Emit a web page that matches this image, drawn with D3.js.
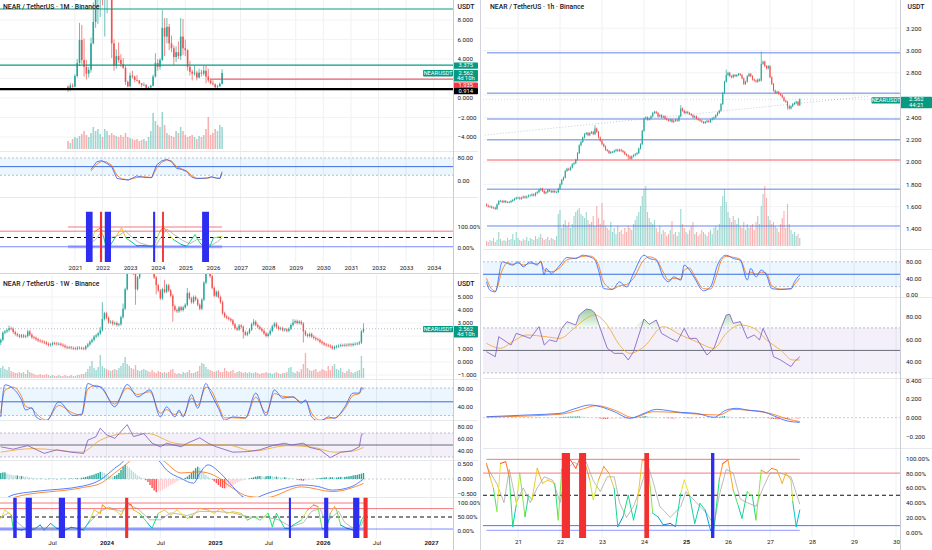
<!DOCTYPE html>
<html lang="en">
<head>
<meta charset="UTF-8">
<title>NEAR / TetherUS</title>
<script src="https://d3js.org/d3.v7.min.js"></script>
<style>
  body { margin: 0; background: #ffffff; }
  svg { display: block; font-family: Roboto, "Liberation Sans", sans-serif; }
  .axis text { font-size: 6.2px; fill: #131722; font-family: Roboto, "Liberation Sans", sans-serif; }
  .title { font-size: 6.8px; fill: #131722; font-weight: 500; }
  .tag { font-size: 5.8px; fill: #ffffff; }
</style>
</head>
<body>
<svg id="chart" width="932" height="550"></svg>
<script>
// ---------------- 1M (Oct 2020 .. May 2026), month index 0 = Oct 2020 ----------------
const m1Open0 = 1.15;
const m1Close = [0.93,1.28,1.17,2.25,3.60,5.95,3.90,3.20,2.50,2.90,
  5.60,7.80,10.30,10.80,14.40,10.20,10.40,16.30,11.20,5.60,
  3.30,4.30,3.90,3.50,3.10,1.65,1.20,2.30,2.20,1.85,
  1.80,1.50,1.35,1.35,1.05,1.10,1.25,2.20,3.60,3.20,
  3.90,7.20,6.30,7.30,5.60,5.10,4.20,4.70,4.30,6.30,
  5.10,4.90,3.20,2.70,2.50,2.60,2.10,2.60,2.50,2.80,
  2.20,1.80,1.50,1.40,1.10,1.20,1.45,2.562];
const m1High = [1.30,1.55,1.50,2.45,4.00,7.70,7.50,6.10,3.90,3.20,
  6.20,9.80,11.30,13.20,14.80,20.60,13.00,19.50,20.50,12.50,
  6.00,5.00,5.70,4.50,4.10,3.30,1.80,2.60,2.80,2.30,
  2.35,1.85,1.55,1.60,1.40,1.20,1.35,2.40,4.60,4.00,
  4.10,9.00,8.20,8.20,7.60,6.40,5.40,5.30,5.80,8.20,
  8.10,6.00,5.00,3.80,2.90,3.30,2.80,3.00,2.90,3.30,
  3.30,3.00,1.90,1.80,1.50,1.35,1.60,2.95];
const m1Low = [0.62,0.70,1.05,1.10,2.10,3.30,3.50,2.20,1.90,2.10,
  2.60,5.50,7.20,7.60,8.30,9.50,6.30,8.70,10.50,4.10,
  2.80,3.00,3.60,3.20,3.00,1.35,1.10,1.10,2.00,1.60,
  1.70,1.40,1.10,1.25,0.95,0.98,1.00,1.20,2.10,2.80,
  2.90,3.80,4.30,5.60,4.90,4.70,3.40,3.70,4.00,3.90,
  4.40,4.30,2.80,2.30,1.80,2.30,1.80,2.00,2.20,2.30,
  1.50,1.60,1.40,1.30,0.95,1.00,1.15,1.40];
const m1Vol = [8,6,10,12,11,13,15,18,14,12,
  16,22,18,20,15,12,20,18,14,16,
  14,13,12,14,12,16,12,11,10,9,
  10,8,9,10,8,12,18,36,28,24,
  22,37,24,16,14,13,12,18,16,22,
  18,14,12,13,14,12,10,13,12,14,
  20,32,14,16,20,18,24,22];
const m1StochIdx = [10,12.5,14.6,16.8,19,21.2,23.3,26.2,29.9,32.8,36.4,38.5,40.7,42.9,45,47.2,49.4,51.6,53.8,55.9,60.3,62.5,64.6,66.1,67];
const m1StochK = [40.6,67,70.7,61.5,49.8,9.3,5.8,3.5,17.4,12.8,11.6,55.7,69.6,75.4,67,44,40.6,32.5,12.8,8.1,10.4,15,9.3,9.3,32.5];
const m1StochD = [35,58,69,66,55,20,8,4,12,15,12,45,65,73,70,50,42,35,18,10,9,13,11,9,25];
const m1SigIdx = [8.4,10.3,11.7,13.9,15.4,16.5,18.3,20.4,23.3,25.2,27.2,29.9,32.8,36.4,37.8,40,41.4,42.9,45.8,49.4,51.6,55.2,57.4,58.6,61.7,63.2,65.3,67];
const m1SigVal = [5,40,79,95,56,11,11,48,95,48,32,11,11,8,24,79,100,79,40,16,8,63,24,11,8,48,52,56];
const m1SlowIdx = [8,12,15,19,22,25,28,31,35,38,41,43,46,50,53,56,59,62,65,67];
const m1SlowVal = [10,40,85,50,60,80,50,25,12,10,60,90,65,35,20,40,40,12,30,48];
const m1BlueSpans = [[7.8,10.7],[16,18.7],[37,37.9],[58.3,61.3]];
const m1RedSpans = [[13.9,14.8],[40.9,41.7]];
const m1TealLevels = [9.13, 3.375];
const m1RedLevel = [61.7, 1.935];
const m1BlackLevel = 0.914;
const m1Years = [2021,2022,2023,2024,2025,2026,2027,2028,2029,2030,2031,2032,2033,2034];
const m1PriceTicks = [-4,-2,0,2,4,6,8];
const m1StochTicks = [0,80];
const m1SigTicks = [0,100];

// ---------------- 1W (week 0 = 2023-01-09) ----------------
const w1Open0 = 1.50;
const w1Close = [1.70,2.25,2.35,2.45,2.60,2.55,2.30,2.15,2.05,1.95,
  2.05,1.95,2.00,2.35,2.10,1.90,1.85,1.75,1.65,1.60,
  1.55,1.50,1.40,1.30,1.35,1.45,1.42,1.38,1.40,1.32,
  1.25,1.15,1.10,1.12,1.08,1.05,1.02,1.10,1.08,1.05,
  1.02,1.20,1.35,1.55,1.70,1.95,2.05,2.20,2.45,3.30,
  3.75,3.40,3.05,3.10,2.95,3.00,2.85,2.90,3.45,4.10,
  5.60,7.20,7.60,7.30,6.80,5.60,6.50,7.10,7.30,7.60,
  8.00,7.80,7.40,7.20,6.50,5.90,5.50,4.90,5.60,5.40,
  5.90,5.50,5.10,4.30,4.00,3.90,4.20,4.00,4.20,4.40,
  5.30,4.90,4.60,5.00,4.80,4.40,4.10,4.80,6.10,7.10,
  7.60,6.60,5.70,5.10,5.40,5.00,4.60,3.75,3.50,3.40,
  3.30,3.20,2.90,2.60,2.50,2.80,2.70,2.30,2.10,2.25,
  2.50,2.90,3.10,2.85,2.70,2.55,2.40,2.20,2.00,2.15,
  2.40,2.75,2.95,2.70,2.55,2.60,2.45,2.50,2.40,2.55,
  2.85,3.05,3.15,3.00,3.10,2.95,2.35,2.10,2.00,2.15,
  1.95,1.85,1.75,1.70,1.55,1.45,1.35,1.30,1.25,1.18,
  1.05,1.15,1.20,1.25,1.30,1.28,1.32,1.30,1.35,1.30,
  1.38,1.40,1.42,1.50,2.35,2.562];
const w1HighMarks = [[4,2.8],[13,2.45],[48,2.7],[49,4.6],[59,4.5],[65,7.0],[79,6.3],[90,5.7],[122,3.3],[141,3.3],[175,2.97]];
const w1LowMarks = [[0,1.3],[54,2.8],[65,4.4],[75,5.2],[83,3.1],[117,1.8],[128,1.9],[146,1.5],[160,0.96]];
const w1Vol = [10,12,9,8,11,7,6,5,5,6,
  5,6,4,8,6,5,4,3,3,4,
  3,3,4,3,2,3,2,2,3,2,
  2,3,2,2,3,2,2,3,3,4,
  4,6,9,12,17,10,8,11,23,12,
  10,9,8,7,8,9,8,10,12,15,
  21,14,12,10,9,13,8,7,8,9,
  8,7,6,8,6,5,7,6,5,6,
  5,6,8,9,5,4,5,4,6,5,
  6,8,5,5,6,7,12,15,14,11,
  9,8,7,6,7,8,6,6,10,7,
  6,7,8,5,6,7,6,5,6,5,
  6,5,5,6,5,4,5,5,6,5,
  5,4,5,6,5,4,5,5,6,10,
  11,6,5,7,6,9,14,25,10,8,
  7,8,9,6,7,9,8,7,12,8,
  12,14,9,8,10,6,5,7,9,6,
  5,6,7,8,22,10];
const w1StochIdx = [0,2,6,10,12,15,17,22,28,35,39,42,46,48,55,61,66,72,77,80,84,86,88,92,95,99,101,105,108,112,118,123,128,132,136,141,145,147,150,154,158,161,166,170,173,174,175];
const w1StochK = [17,87,79,54,32,37,17,8,50,20,23,90,83,83,39,88,61,76,17,39,17,32,17,66,36,90,72,36,10,17,15,69,20,76,58,61,47,54,17,7,17,14,39,69,69,81,78];
const w1StochD = [25,75,82,62,40,35,25,10,42,25,21,78,86,82,45,80,66,72,25,33,22,28,20,58,42,82,78,42,15,15,14,60,26,68,62,60,50,52,25,10,14,15,35,64,68,76,80];
const w1RsiIdx = [0,6,13,21,27,34,40,42,46,48,51,55,61,64,69,73,77,80,87,90,96,100,104,112,119,125,131,137,140,146,149,154,159,164,169,173,174,175];
const w1Rsi = [47,43,49,36,42,38,36,58,64,78,67,61,84,64,69,53,47,53,47,53,62,53,47,38,39,42,49,53,50,53,46,42,29,38,40,47,67,69];
const w1RsiMaIdx = [0,16,39,48,61,71,84,96,109,122,138,151,161,170,175];
const w1RsiMa = [38,44,38,58,69,69,53,50,50,40,49,46,38,40,46];
const w1MacdIdx = [0,6,16,40,48,55,59,62,68,72,76,80,87,93,96,100,106,112,117,122,125,137,145,153,160,169,175];
const w1Macd = [-0.75,-0.53,-0.42,-0.23,-0.03,0.36,0.58,0.9,1.0,0.8,0.63,0.3,0.02,-0.14,0.19,0.47,0.19,-0.26,-0.6,-0.68,-0.58,-0.31,-0.2,-0.25,-0.37,-0.26,0.0];
const w1SignalIdx = [0,6,40,48,55,61,66,72,78,87,96,103,112,119,128,145,160,175];
const w1Signal = [-0.8,-0.62,-0.28,-0.15,0.2,0.52,0.8,0.85,0.63,0.2,0.24,0.12,-0.31,-0.57,-0.62,-0.26,-0.42,-0.15];
const w1Hist = [20,22,22,18,16,14,13,12,12,10,
  10,9,8,6,5,4,3,2,1,1,
  1,0,-1,1,1,0,1,-1,0,1,
  1,1,0,1,2,1,2,3,2,4,
  5,7,9,11,13,15,18,20,24,23,
  20,16,12,9,8,10,14,20,30,40,
  47,44,38,30,24,18,12,8,4,2,
  -4,-10,-20,-30,-38,-44,-42,-40,-36,-32,
  -28,-24,-20,-16,-12,-8,-5,-3,0,4,
  8,14,20,28,36,41,38,30,22,14,
  8,3,-2,-8,-14,-20,-26,-30,-31,-30,
  -28,-24,-20,-16,-12,-9,-6,-4,-2,0,
  2,4,6,8,9,10,9,8,9,10,
  10,9,8,8,7,6,5,6,5,4,
  3,2,0,-2,-4,-5,-6,-5,-4,-3,
  -2,-1,1,2,3,4,5,6,5,6,
  6,5,5,6,7,6,7,8,9,10,
  12,13,14,16,18,20];
const w1SigIdx = [0,2,5,6,10,13,16,19,21,24,27,31,34,37,40,43,45,48,49,51,55,58,61,63,64,67,71,73,76,79,82,85,90,93,96,100,103,106,109,112,116,119,122,125,129,131,133,137,139,141,145,148,151,153,155,157,159,161,162,164,167,170,173,174,175];
const w1SigVal = [45,75,57,9.5,3.6,9.5,6,21,3.6,27,9.5,3.6,13,9.5,3.6,39,75,63,93,81,75,57,99,93,75,63,27,9.5,63,75,57,75,45,57,81,75,63,81,63,69,63,39,51,39,63,15,63,9.5,9.5,21,39,75,93,87,9.5,3.6,63,87,75,21,9.5,3.6,15,39,51];
const w1SlowIdx = [0,4,8,12,20,30,40,44,48,52,58,62,66,72,77,82,90,96,104,112,120,128,134,140,146,150,154,157,160,163,166,170,174,175];
const w1SlowVal = [50,65,30,8,10,10,8,40,70,85,70,92,80,40,40,65,55,70,70,65,50,50,40,15,30,70,80,30,50,70,30,10,20,40];
const w1BlueSpans = [[6,7.7],[12,15],[28,31],[37,38.6],[139,140],[156,158],[170,173]];
const w1RedSpans = [[60,61.5],[175,177]];
const w1TickDates = ["2023-07-01","2024-01-01","2024-07-01","2025-01-01","2025-07-01","2026-01-01","2026-07-01","2027-01-01"];
const w1TickLabels = ["Jul","2024","Jul","2025","Jul","2026","Jul","2027"];
const w1PriceTicks = [-1,0,1,2,3,4,5];
const w1StochTicks = [40,80];
const w1RsiTicks = [40,60,80];
const w1MacdTicks = [-0.5,0,0.5];
const w1SigTicks = [0,50,100];

// ---------------- 1h (hour 0 = day 20, 00:00; first candle hour 6) ----------------
const h1Start = 6;
const h1Open0 = 1.62;
const h1Close = [1.61,1.60,1.60,1.59,1.59,1.58,1.62,1.65,1.65,1.64,
  1.65,1.64,1.64,1.64,1.65,1.66,1.67,1.68,1.68,1.67,
  1.68,1.69,1.68,1.69,1.70,1.70,1.71,1.70,1.72,1.73,
  1.75,1.76,1.74,1.72,1.73,1.75,1.74,1.73,1.74,1.73,
  1.73,1.76,1.80,1.84,1.86,1.92,1.94,1.93,1.95,1.98,
  1.99,2.02,2.08,2.15,2.18,2.22,2.25,2.26,2.24,2.26,
  2.27,2.25,2.30,2.27,2.22,2.19,2.16,2.14,2.11,2.10,
  2.08,2.09,2.09,2.10,2.11,2.10,2.11,2.10,2.09,2.07,
  2.06,2.05,2.03,2.05,2.06,2.07,2.08,2.12,2.16,2.28,
  2.39,2.40,2.38,2.39,2.41,2.44,2.45,2.44,2.41,2.42,
  2.40,2.41,2.39,2.38,2.37,2.38,2.36,2.37,2.38,2.37,
  2.41,2.48,2.46,2.44,2.45,2.44,2.43,2.42,2.40,2.41,
  2.39,2.38,2.37,2.36,2.35,2.36,2.37,2.36,2.38,2.39,
  2.40,2.42,2.44,2.46,2.52,2.62,2.72,2.78,2.80,2.77,
  2.76,2.78,2.77,2.78,2.79,2.78,2.75,2.70,2.72,2.77,
  2.79,2.77,2.74,2.73,2.72,2.74,2.73,2.88,2.90,2.86,
  2.84,2.86,2.76,2.70,2.64,2.62,2.63,2.61,2.60,2.58,
  2.55,2.54,2.50,2.48,2.50,2.52,2.53,2.54,2.51,2.562];
const h1HighMarks = [[68,2.33],[117,2.51],[143,2.83],[163,2.99]];
const h1LowMarks = [[11,1.57],[87,2.02],[178,2.47]];
const h1Vol = [5,4,6,5,8,4,6,14,7,5,
  6,5,8,6,7,12,6,14,8,6,
  5,7,6,9,5,8,7,6,10,7,
  9,12,8,6,7,9,6,8,7,6,
  10,32,36,18,22,26,20,24,18,22,
  30,34,36,38,32,30,28,34,26,22,
  24,30,20,40,28,22,43,26,20,18,
  16,24,14,18,12,20,14,16,12,18,
  14,20,18,16,22,26,30,34,40,50,
  57,60,34,28,24,22,26,18,14,20,
  12,16,14,10,12,16,25,12,14,10,
  14,37,22,18,14,12,16,20,24,12,
  14,10,12,16,14,12,10,14,16,12,
  18,20,16,22,40,50,57,44,34,28,
  24,30,26,22,28,20,18,24,16,22,
  18,20,22,16,24,30,22,40,52,60,
  48,30,26,22,24,20,18,14,22,28,
  35,18,42,22,16,12,14,10,12,8];
const h1Hist = [1,1,2,1,-1,-2,1,3,2,1,
  1,0,1,1,2,2,3,2,1,0,
  1,2,2,1,2,3,2,1,2,3,
  4,3,1,0,-1,1,2,1,0,-1,
  0,3,6,8,9,10,10,11,12,12,
  12,13,14,15,14,12,10,9,7,5,
  4,2,0,-2,-5,-8,-11,-13,-14,-14,
  -13,-12,-11,-10,-9,-8,-7,-7,-6,-6,
  -6,-5,-4,-3,-2,0,2,4,8,12,
  16,17,16,14,12,10,8,6,4,2,
  0,-2,-3,-5,-6,-7,-8,-9,-8,-7,
  -5,-2,-1,-3,-4,-5,-6,-7,-6,-5,
  -5,-4,-4,-3,-3,-2,-1,0,1,2,
  3,5,7,9,12,15,17,16,14,11,
  8,5,2,0,-2,-4,-5,-6,-5,-4,
  -3,-2,-3,-4,-5,-4,-2,2,3,1,
  -2,-5,-9,-12,-14,-15,-16,-16,-15,-14,
  -13,-14,-15,-14,-13,-12,-11,-10,-10,-9];
const h1StochIdx = [6,8,11,15,18,21,24,27,31,35,37,39,40,43,48,52,57,61,65,68,70,73,78,82,86,90,96,99,103,107,110,113,117,119,122,125,130,134,138,140,143,147,151,155,157,160,163,166,169,174,180,182,185];
const h1StochK = [31.5,11,7,80,76,72,80,68,80,72,82,48,64,52,72,90.5,88,96,92,84,60,15,13,31.5,19,52,96,88,84,43.6,31.5,43.6,35.6,72,60,39.6,9.7,19,72,88,96,88,84,35.6,64,43.6,60,47.7,15,13,15,31.5,47.7];
const h1StochD = [40,20,9,60,78,74,77,72,76,75,79,60,58,56,66,85,89,93,94,88,72,30,14,22,25,40,85,92,86,55,36,40,38,60,65,45,15,14,55,82,93,91,86,50,55,50,55,52,22,14,14,25,40];
const h1RsiIdx = [6,11,13,20,23,31,36,39,42,46,49,52,57,59,63,66,68,71,75,79,84,87,90,96,99,103,106,111,115,119,122,126,132,136,139,143,145,147,151,155,159,162,164,168,170,174,177,180,182,185];
const h1Rsi = [48.9,44.4,62.2,54.8,65.2,60.7,71.1,54.8,59.3,57.8,69.6,75.6,72.6,81.5,86.8,85.9,83,69.6,51.9,47.4,47.4,41.5,48.9,77.9,73.2,77,65.2,60.7,57.8,69.6,60.7,60.7,45.9,51.9,65.2,81.5,82.1,74.1,75.6,60.7,63.7,59.3,69.6,56.3,44.4,41.5,38.5,35.6,40,44.4];
const h1RsiMaIdx = [6,14,21,29,40,48,56,63,68,75,82,88,96,107,117,126,136,143,151,159,166,174,181,185];
const h1RsiMa = [56.3,51.9,58,63.7,62.2,60.7,69.6,78.5,81.5,72.6,54.8,47.4,53.3,71.1,63.7,57.8,51.9,65.2,72.6,69.6,59.3,50.4,41.5,41.5];
const h1MacdIdx = [6,31,48,56,65,71,79,88,96,103,117,126,136,143,149,155,164,170,178,185];
const h1Macd = [0.01,0.03,0.046,0.093,0.136,0.118,0.064,-0.007,0.046,0.089,0.057,0.046,0.004,0.082,0.1,0.082,0.064,0.021,-0.036,-0.05];
const h1SignalIdx = [6,48,59,69,79,90,101,113,128,139,147,159,168,178,185];
const h1Signal = [0.007,0.036,0.082,0.129,0.082,0,0.064,0.057,0.036,0.029,0.089,0.071,0.046,-0.014,-0.043];
const h1SigIdx = [6,8,10,12,14,17,19,21,23,25,28,30,32,35,38,41,45,47,49,51,54,57,59,62,65,67,70,73,76,79,81,84,87,90,92,95,98,99,101,104,107,111,114,117,119,122,125,128,131,134,136,139,141,144,147,150,152,155,158,160,163,166,169,172,175,177,180,181,183,185];
const h1SigVal = [93,75,59,28,93,95.5,75,7.7,37,80,21,50,44,86.5,66,70.7,66,16.7,84,97.7,97.7,86.5,97.7,95.5,70.7,44,70.7,88.7,80,59,7.7,21,50,16.7,37,97.7,97.7,75,25.7,21,9.9,12,7.7,52.7,70.7,50,12,39,30,3,5.4,70.7,93,97.7,57,34.7,19,55,48,16.7,84,80,86.5,84,66,80,70.7,41.4,7.7,30];
const h1SlowIdx = [6,12,16,19,23,27,31,35,39,44,48,52,56,59,63,67,71,75,79,82,86,90,94,98,101,105,111,117,120,126,132,136,139,143,147,151,155,160,164,168,174,180,185];
const h1SlowVal = [90,65,40,85,40,60,40,60,75,70,40,85,95,90,95,70,55,75,75,40,20,35,60,92,70,35,20,35,55,40,25,10,50,85,80,45,40,35,60,80,80,75,38];
const h1RedSpans = [[49,53.7],[58.9,62.9],[96.2,98.9]];
const h1BlueSpans = [[134.3,136.2]];
const h1BlueLevels = [2.98, 2.616, 2.386, 2.20, 1.755, 1.426];
const h1RedLevels = [2.018];
const h1Trend = [[5, 2.242], [225, 2.59]];
const h1Days = [21,22,23,24,25,26,27,28,29,30];
const h1PriceTicks = [1.4,1.6,1.8,2.0,2.2,2.4,2.6,2.8,3.0,3.2];
const h1StochTicks = [0,40,80];
const h1RsiTicks = [40,60,80];
const h1MacdTicks = [-0.2,0,0.2,0.4];
const h1SigTicks = [0,20,40,60,80,100];

const lastPrice = 2.562;

// ---------------- drawing helpers ----------------
const svg = d3.select("#chart");
const UP = "#26a69a", DN = "#ef5350";
const UPV = "rgba(38,166,154,0.45)", DNV = "rgba(239,83,80,0.45)";
const heat = d3.scaleLinear().domain([0, 20, 40, 60, 80, 100])
  .range(["#1f1fff", "#00c2e0", "#1ee36b", "#e6e62e", "#ff9a1f", "#ff2a2a"]);
let clipId = 0;

function clipped(x0, y0, x1, y1) {
  const id = "clip" + (clipId++);
  svg.append("clipPath").attr("id", id).append("rect")
    .attr("x", x0).attr("y", y0).attr("width", x1 - x0).attr("height", y1 - y0);
  return svg.append("g").attr("clip-path", `url(#${id})`);
}

function hline(g, x0, x1, yy, color, w, dash) {
  g.append("line").attr("x1", x0).attr("x2", x1).attr("y1", yy).attr("y2", yy)
    .attr("stroke", color).attr("stroke-width", w).attr("stroke-dasharray", dash || null);
}

// price labels; a label that would sit under a price tag is left out (the tag hides it)
function yAxis(y, ticks, fmt, lx, covered) {
  const shown = ticks.filter(t => !(covered || []).some(([a, b]) => y(t) > a - 2.6 && y(t) < b + 2.6));
  const g = svg.append("g").attr("class", "axis").attr("transform", `translate(${lx},0)`)
    .call(d3.axisRight(y).tickValues(shown).tickFormat(fmt).tickSize(0).tickPadding(0));
  g.select(".domain").remove();
}

function xAxis(x, ticks, labels, yy, bold) {
  const g = svg.append("g").attr("class", "axis").attr("transform", `translate(0,${yy})`)
    .call(d3.axisBottom(x).tickValues(ticks).tickFormat((d, i) => labels[i]).tickSize(0).tickPadding(0));
  g.select(".domain").remove();
  g.selectAll("text").attr("font-weight", (d, i) => bold(labels[i]) ? "bold" : null);
}

function vgrid(g, x, ticks, y0, y1) {
  g.selectAll(null).data(ticks).join("line")
    .attr("x1", d => x(d)).attr("x2", d => x(d)).attr("y1", y0).attr("y2", y1)
    .attr("stroke", "#eef0f4").attr("stroke-width", 1);
}

function hgrid(g, y, ticks, x0, x1) {
  g.selectAll(null).data(ticks).join("line")
    .attr("x1", x0).attr("x2", x1).attr("y1", d => y(d)).attr("y2", d => y(d))
    .attr("stroke", "#f2f3f6").attr("stroke-width", 1);
}

function candles(g, x, y, tAt, open0, closes, highs, lows, bw, pad) {
  const bars = closes.map((c, i) => ({
    t: tAt(i), o: i ? closes[i - 1] : open0, c, h: highs.get(i), l: lows.get(i)
  }));
  g.selectAll(null).data(bars).join("line")
    .attr("x1", d => x(d.t)).attr("x2", d => x(d.t))
    .attr("y1", d => d.h !== undefined ? y(d.h) : Math.min(y(d.o), y(d.c)) - pad)
    .attr("y2", d => d.l !== undefined ? y(d.l) : Math.max(y(d.o), y(d.c)) + pad)
    .attr("stroke", d => d.c >= d.o ? UP : DN).attr("stroke-width", 0.7);
  g.selectAll(null).data(bars).join("rect")
    .attr("x", d => x(d.t) - bw / 2).attr("width", bw)
    .attr("y", d => Math.min(y(d.o), y(d.c)))
    .attr("height", d => Math.max(0.7, Math.abs(y(d.o) - y(d.c))))
    .attr("fill", d => d.c >= d.o ? UP : DN);
}

function volume(g, x, y, tAt, open0, closes, vols, bw) {
  g.selectAll(null).data(vols).join("rect")
    .attr("x", (v, i) => x(tAt(i)) - bw / 2).attr("width", bw)
    .attr("y", v => y(v)).attr("height", v => y(0) - y(v))
    .attr("fill", (v, i) => closes[i] >= (i ? closes[i - 1] : open0) ? UPV : DNV);
}

function path(g, x, y, tAt, xs, vs, color, w, curve) {
  return g.append("path").datum(xs.map((t, i) => [t, vs[i]]))
    .attr("fill", "none").attr("stroke", color).attr("stroke-width", w)
    .attr("stroke-linejoin", "round")
    .attr("d", d3.line().x(d => x(tAt(d[0]))).y(d => y(d[1])).curve(curve || d3.curveLinear));
}

function heatPath(g, x, y, tAt, xs, vs, w) {
  const segs = d3.pairs(xs.map((t, i) => [t, vs[i]]));
  g.selectAll(null).data(segs).join("line")
    .attr("x1", d => x(tAt(d[0][0]))).attr("y1", d => y(d[0][1]))
    .attr("x2", d => x(tAt(d[1][0]))).attr("y2", d => y(d[1][1]))
    .attr("stroke", d => heat((d[0][1] + d[1][1]) / 2))
    .attr("stroke-width", w).attr("stroke-linecap", "round");
}

function hist(g, x, y, tAt, vals, k, bw) {
  g.selectAll(null).data(vals).join("rect")
    .attr("x", (v, i) => x(tAt(i)) - bw / 2).attr("width", bw)
    .attr("y", v => Math.min(y(v / k), y(0))).attr("height", v => Math.abs(y(v / k) - y(0)))
    .attr("fill", (v, i) => {
      const p = i ? vals[i - 1] : v;
      if (v >= 0) return v >= p ? "#26a69a" : "#b2dfdb";
      return v <= p ? "#ff5252" : "#ffcdd2";
    });
}

function spans(g, x, tAt, list, color, y0, y1) {
  g.selectAll(null).data(list).join("rect")
    .attr("x", d => x(tAt(d[0])))
    .attr("width", d => Math.max(1.5, x(tAt(d[1])) - x(tAt(d[0]))))
    .attr("y", y0).attr("height", y1 - y0).attr("fill", color);
}

function band(g, y, lo, hi, x0, x1, fill) {
  g.append("rect").attr("x", x0).attr("width", x1 - x0)
    .attr("y", y(hi)).attr("height", y(lo) - y(hi)).attr("fill", fill);
}

function tag(x0, y0, w, h, fill, lines) {
  const g = svg.append("g");
  g.append("rect").attr("x", x0).attr("y", y0).attr("width", w).attr("height", h)
    .attr("rx", 0.8).attr("fill", fill);
  g.selectAll(null).data(lines).join("text").attr("class", "tag")
    .attr("x", x0 + w / 2).attr("y", (d, i) => y0 + 4.7 + i * 5.6)
    .attr("text-anchor", "middle").text(d => d);
  return [y0, y0 + h];
}

const fPrice = d3.format(".3f");
const fOsc = d3.format(".2f");
const fPct = d => d3.format(".2f")(d) + "%";
const STK = "#2962ff", STD = "#ff6d00", RSI = "#7e57c2", RSIMA = "#f5a623";
const SIGBLUE = "#2e2ef0", SIGRED = "#f23030";
const LVLRED = "rgba(242,54,69,0.75)", BANDBLUE = "rgba(33,150,243,0.09)", BANDPURPLE = "rgba(126,87,194,0.09)";

svg.append("rect").attr("width", 932).attr("height", 550).attr("fill", "#ffffff");

// =============== 1M chart (top left) ===============
{
  const X0 = 0, X1 = 453, AX = 457.5;
  const x = d3.scaleLinear().domain([0, 160]).range([68, 436]);
  const y = d3.scaleLinear().domain([0, 10]).range([98, 0.5]);
  const yv = d3.scaleLinear().domain([0, 40]).range([149, 109]);
  const ys = d3.scaleLinear().domain([0, 100]).range([181, 152.25]);
  const yg = d3.scaleLinear().domain([0, 100]).range([248, 227]);
  const tAt = i => i;
  const yearIdx = m1Years.map(Y => (Y - 2021) * 12 + 3);

  const grid = svg.append("g");
  vgrid(grid, x, yearIdx, 0, 262);
  hgrid(grid, y, m1PriceTicks, X0, X1);
  hline(grid, X0, 478, 151.5, "#e6e8ee", 1);
  hline(grid, X0, 478, 197.5, "#e6e8ee", 1);

  const gp = clipped(X0, 0, X1, 151);
  volume(gp, x, yv, tAt, m1Open0, m1Close, m1Vol, 1.6);
  candles(gp, x, y, tAt, m1Open0, m1Close,
    new Map(m1High.map((v, i) => [i, v])), new Map(m1Low.map((v, i) => [i, v])), 1.6, 0);
  m1TealLevels.forEach(v => hline(gp, X0, X1, y(v), "#089981", 1.1));
  hline(gp, x(m1RedLevel[0]), X1, y(m1RedLevel[1]), "#f23645", 1);
  hline(gp, X0, X1, y(m1BlackLevel), "#000000", 2.4);

  const gs = clipped(X0, 152, X1, 192);
  band(gs, ys, 20, 80, X0, X1, BANDBLUE);
  hline(gs, X0, X1, ys(80), "#a0a3ad", 0.7, "2,2");
  hline(gs, X0, X1, ys(20), "#a0a3ad", 0.7, "2,2");
  hline(gs, X0, X1, ys(50), "#3d6be0", 1);
  path(gs, x, ys, tAt, m1StochIdx, m1StochD, STD, 0.8);
  path(gs, x, ys, tAt, m1StochIdx, m1StochK, STK, 0.8);

  const gg = clipped(X0, 211.5, X1, 262);
  hline(gg, x(0), x(67), yg(100), LVLRED, 0.9);
  hline(gg, X0, X1, yg(80), LVLRED, 0.9);
  hline(gg, X0, X1, yg(50), "#111111", 1.1, "4,3");
  hline(gg, x(0), x(67), yg(6), "rgba(80,100,255,0.45)", 3);
  hline(gg, X0, X1, yg(6), "#5a6cff", 0.8);
  path(gg, x, yg, tAt, m1SlowIdx, m1SlowVal, "#9e9e9e", 0.7);
  heatPath(gg, x, yg, tAt, m1SigIdx, m1SigVal, 1);
  spans(gg, x, tAt, m1BlueSpans, SIGBLUE, 211.5, 262);
  spans(gg, x, tAt, m1RedSpans, SIGRED, 211.5, 262);

  const covered = [
    tag(453.5, y(3.375) - 2.6, 24.5, 6.2, "#089981", [fPrice(3.375)]),
    tag(453.5, y(lastPrice) - 3, 24.5, 11.6, "#089981", [fPrice(lastPrice), "4d 10h"]),
    tag(453.5, y(m1RedLevel[1]) + 3.4, 24.5, 6.0, "#f23645", [fPrice(m1RedLevel[1])]),
    tag(453.5, y(m1BlackLevel) - 1.0, 24.5, 6.2, "#000000", [fPrice(m1BlackLevel)])
  ];
  tag(423, y(lastPrice) - 3, 30, 6.4, "#089981", ["NEARUSDT"]);

  yAxis(y, m1PriceTicks, fPrice, AX, [[covered[1][0], covered[3][1]]]);
  yAxis(ys, m1StochTicks, fOsc, AX);
  yAxis(yg, m1SigTicks, fPct, AX);
  xAxis(x, yearIdx, m1Years.map(String), 265.5, () => false);

  svg.append("text").attr("class", "title").attr("x", 3).attr("y", 9).text("NEAR / TetherUS · 1M · Binance");
  svg.append("text").attr("class", "title").attr("x", AX).attr("y", 9).text("USDT");
}

// =============== 1W chart (bottom left) ===============
{
  const X0 = 0, X1 = 453, AX = 457.5;
  const parse = d3.timeParse("%Y-%m-%d");
  const base = new Date(2023, 0, 9).getTime();
  const tAt = i => new Date(base + i * 6048e5);
  const x = d3.scaleTime().domain([new Date(2023, 6, 1), new Date(2027, 0, 1)]).range([52, 431]);
  const y = d3.scaleLinear().domain([0, 7]).range([362, 271]);
  const yv = d3.scaleLinear().domain([0, 25]).range([378, 353]);
  const ys = d3.scaleLinear().domain([0, 100]).range([424.7, 378.9]);
  const yr = d3.scaleLinear().domain([0, 100]).range([475, 415]);
  const ym = d3.scaleLinear().domain([-1, 1]).range([509, 449]);
  const yg = d3.scaleLinear().domain([0, 100]).range([531, 503]);
  const ticks = w1TickDates.map(parse);

  const grid = svg.append("g");
  vgrid(grid, x, ticks, 275, 538);
  hgrid(grid, y, w1PriceTicks, X0, X1);
  [379.5, 420.5, 460.5, 497.5].forEach(v => hline(grid, X0, 478, v, "#e6e8ee", 1));

  const gp = clipped(X0, 274, X1, 379);
  volume(gp, x, yv, tAt, w1Open0, w1Close, w1Vol, 1.4);
  hline(gp, X0, X1, y(lastPrice), "#9aa0a8", 0.7, "1,2");
  candles(gp, x, y, tAt, w1Open0, w1Close, new Map(w1HighMarks), new Map(w1LowMarks), 1.4, 1.5);

  const gs = clipped(X0, 380, X1, 420);
  band(gs, ys, 20, 80, X0, X1, BANDBLUE);
  hline(gs, X0, X1, ys(80), "#a0a3ad", 0.7, "2,2");
  hline(gs, X0, X1, ys(20), "#a0a3ad", 0.7, "2,2");
  hline(gs, X0, X1, ys(50), "#3d6be0", 1);
  path(gs, x, ys, tAt, w1StochIdx, w1StochD, STD, 0.8, d3.curveMonotoneX);
  path(gs, x, ys, tAt, w1StochIdx, w1StochK, STK, 0.8, d3.curveMonotoneX);

  const gr = clipped(X0, 421, X1, 460);
  band(gr, yr, 30, 70, X0, X1, BANDPURPLE);
  hline(gr, X0, X1, yr(70), "#a0a3ad", 0.7, "2,2");
  hline(gr, X0, X1, yr(30), "#a0a3ad", 0.7, "2,2");
  hline(gr, X0, X1, yr(50), "#6a6d78", 1);
  path(gr, x, yr, tAt, w1RsiMaIdx, w1RsiMa, RSIMA, 0.8, d3.curveMonotoneX);
  path(gr, x, yr, tAt, w1RsiIdx, w1Rsi, RSI, 0.8);

  const gm = clipped(X0, 461, X1, 497);
  hline(gm, X0, X1, ym(0), "#b8bcc6", 0.7, "2,2");
  hist(gm, x, ym, tAt, w1Hist, 100, 1.4);
  path(gm, x, ym, tAt, w1SignalIdx, w1Signal, STD, 0.8, d3.curveMonotoneX);
  path(gm, x, ym, tAt, w1MacdIdx, w1Macd, STK, 0.8, d3.curveMonotoneX);

  const gg = clipped(X0, 497.5, X1, 538);
  const xEnd = x(tAt(176));
  hline(gg, X0, xEnd, yg(100), LVLRED, 0.9);
  hline(gg, X0, X1, yg(80), LVLRED, 0.9);
  hline(gg, X0, X1, yg(50), "#111111", 1.1, "4,3");
  hline(gg, X0, xEnd, yg(7), "rgba(80,100,255,0.45)", 3.5);
  hline(gg, X0, X1, yg(7), "#5a6cff", 0.8);
  path(gg, x, yg, tAt, w1SlowIdx, w1SlowVal, "#9e9e9e", 0.7);
  heatPath(gg, x, yg, tAt, w1SigIdx, w1SigVal, 1);
  spans(gg, x, tAt, w1BlueSpans, SIGBLUE, 497.5, 538);
  spans(gg, x, tAt, w1RedSpans, SIGRED, 497.5, 538);

  tag(423, y(lastPrice) - 2.7, 30, 6.2, "#089981", ["NEARUSDT"]);
  const cov = tag(453.5, y(lastPrice) - 2.7, 24.5, 11.4, "#089981", [fPrice(lastPrice), "4d 10h"]);

  yAxis(y, w1PriceTicks, fPrice, AX, [cov]);
  yAxis(ys, w1StochTicks, fOsc, AX);
  yAxis(yr, w1RsiTicks, fOsc, AX);
  yAxis(ym, w1MacdTicks, fPrice, AX);
  yAxis(yg, w1SigTicks, fPct, AX);
  xAxis(x, ticks, w1TickLabels, 540.5, s => s !== "Jul");

  svg.append("text").attr("class", "title").attr("x", 3).attr("y", 286).text("NEAR / TetherUS · 1W · Binance");
  svg.append("text").attr("class", "title").attr("x", AX).attr("y", 286).text("USDT");
}

// =============== 1h chart (right) ===============
{
  const X0 = 483, X1 = 900, AX = 906;
  const tAt = i => i;
  const tCandle = i => h1Start + i;
  const x = d3.scaleLinear().domain([0, 240]).range([476, 896]);
  const y = d3.scaleLinear().domain([2, 3]).range([162, 50.5]);
  const yv = d3.scaleLinear().domain([0, 60]).range([246, 186]);
  const ys = d3.scaleLinear().domain([0, 100]).range([294.8, 253.55]);
  const yr = d3.scaleLinear().domain([0, 100]).range([406.67, 294.17]);
  const ym = d3.scaleLinear().domain([0, 1]).range([417.67, 324.37]);
  const yg = d3.scaleLinear().domain([0, 100]).range([532.3, 458.3]);
  const dayHours = h1Days.map(d => (d - 20) * 24);

  const grid = svg.append("g");
  vgrid(grid, x, dayHours, 0, 538);
  hgrid(grid, y, h1PriceTicks, X0, X1);
  [249.5, 297.5, 378.5, 448.5].forEach(v => hline(grid, X0, 932, v, "#e6e8ee", 1));

  const gp = clipped(X0, 0, X1, 249);
  volume(gp, x, yv, tCandle, h1Open0, h1Close, h1Vol, 1.1);
  h1BlueLevels.forEach(v => hline(gp, 487, X1, y(v), "rgba(80,120,230,0.6)", 1.5));
  h1RedLevels.forEach(v => hline(gp, 487, X1, y(v), "rgba(242,54,69,0.55)", 1.5));
  path(gp, x, y, tAt, h1Trend.map(d => d[0]), h1Trend.map(d => d[1]), "#b0b4bd", 0.7)
    .attr("stroke-dasharray", "1,2");
  hline(gp, X0, X1, y(lastPrice), "rgba(8,153,129,0.35)", 0.7, "1,2");
  candles(gp, x, y, tCandle, h1Open0, h1Close,
    new Map(h1HighMarks.map(d => [d[0] - h1Start, d[1]])),
    new Map(h1LowMarks.map(d => [d[0] - h1Start, d[1]])), 1.1, 1);

  const gs = clipped(X0, 250, X1, 297);
  band(gs, ys, 20, 80, X0, X1, BANDBLUE);
  hline(gs, X0, X1, ys(80), "#a0a3ad", 0.7, "2,2");
  hline(gs, X0, X1, ys(20), "#a0a3ad", 0.7, "2,2");
  hline(gs, X0, X1, ys(50), "#3d6be0", 1.1);
  path(gs, x, ys, tAt, h1StochIdx, h1StochD, STD, 0.8, d3.curveMonotoneX);
  path(gs, x, ys, tAt, h1StochIdx, h1StochK, STK, 0.8, d3.curveMonotoneX);

  const gr = clipped(X0, 298, X1, 378);
  band(gr, yr, 30, 70, X0, X1, BANDPURPLE);
  hline(gr, X0, X1, yr(70), "#a0a3ad", 0.7, "2,2");
  hline(gr, X0, X1, yr(30), "#a0a3ad", 0.7, "2,2");
  hline(gr, X0, X1, yr(50), "#6a6d78", 1);
  const grad = svg.append("defs").append("linearGradient").attr("id", "obFill")
    .attr("gradientUnits", "userSpaceOnUse").attr("x1", 0).attr("x2", 0)
    .attr("y1", yr(100)).attr("y2", yr(70));
  grad.append("stop").attr("offset", "0%").attr("stop-color", "rgba(56,160,70,0.9)");
  grad.append("stop").attr("offset", "100%").attr("stop-color", "rgba(76,175,80,0.05)");
  gr.append("path").datum(h1RsiIdx.map((t, i) => [t, h1Rsi[i]]))
    .attr("fill", "url(#obFill)")
    .attr("d", d3.area().x(d => x(d[0])).y0(yr(70)).y1(d => yr(Math.max(70, d[1]))));
  path(gr, x, yr, tAt, h1RsiMaIdx, h1RsiMa, RSIMA, 0.8, d3.curveMonotoneX);
  path(gr, x, yr, tAt, h1RsiIdx, h1Rsi, RSI, 0.8);

  const gm = clipped(X0, 379, X1, 448);
  hline(gm, X0, X1, ym(0), "#b8bcc6", 0.7, "2,2");
  hist(gm, x, ym, tCandle, h1Hist, 1000, 1.1);
  path(gm, x, ym, tAt, h1SignalIdx, h1Signal, STD, 0.8, d3.curveMonotoneX);
  path(gm, x, ym, tAt, h1MacdIdx, h1Macd, STK, 0.8, d3.curveMonotoneX);

  const gg = clipped(X0, 453, X1, 538);
  const xs0 = x(h1Start), xs1 = x(185);
  hline(gg, xs0, xs1, yg(98.6), LVLRED, 0.9);
  hline(gg, X0, X1, yg(80), LVLRED, 0.9);
  hline(gg, X0, X1, yg(50), "#111111", 1.1, "4,3");
  hline(gg, X0, X1, yg(9), "#4a5cff", 0.9);
  hline(gg, xs0, xs1, yg(2.5), "rgba(90,110,255,0.55)", 1.2);
  path(gg, x, yg, tAt, h1SlowIdx, h1SlowVal, "#9e9e9e", 0.7);
  heatPath(gg, x, yg, tAt, h1SigIdx, h1SigVal, 1);
  spans(gg, x, tAt, h1RedSpans, SIGRED, 453, 538);
  spans(gg, x, tAt, h1BlueSpans, SIGBLUE, 453, 538);

  tag(871.5, y(lastPrice) - 2, 29, 6.2, "#089981", ["NEARUSDT"]);
  const cov = tag(900.5, y(lastPrice) - 2.6, 31.5, 11.6, "#089981", [fPrice(lastPrice), "44:21"]);

  yAxis(y, h1PriceTicks, fPrice, AX, [cov]);
  yAxis(ys, h1StochTicks, fOsc, AX);
  yAxis(yr, h1RsiTicks, fOsc, AX);
  yAxis(ym, h1MacdTicks, fPrice, AX);
  yAxis(yg, h1SigTicks, fPct, AX);
  xAxis(x, dayHours, h1Days.map(String), 539.5, s => s === "25");

  svg.append("text").attr("class", "title").attr("x", 490).attr("y", 9).text("NEAR / TetherUS · 1h · Binance");
  svg.append("text").attr("class", "title").attr("x", AX + 1.5).attr("y", 9).text("USDT");
}

// ---------------- borders ----------------
const fr = svg.append("g");
hline(fr, 0, 479, 273.5, "#d1d4dc", 1);
fr.append("line").attr("x1", 453.5).attr("x2", 453.5).attr("y1", 0).attr("y2", 550).attr("stroke", "#c9ccd4");
fr.append("line").attr("x1", 480.5).attr("x2", 480.5).attr("y1", 0).attr("y2", 550).attr("stroke", "#d1d4dc");
fr.append("line").attr("x1", 900.5).attr("x2", 900.5).attr("y1", 0).attr("y2", 550).attr("stroke", "#c9ccd4");
</script>
</body>
</html>
